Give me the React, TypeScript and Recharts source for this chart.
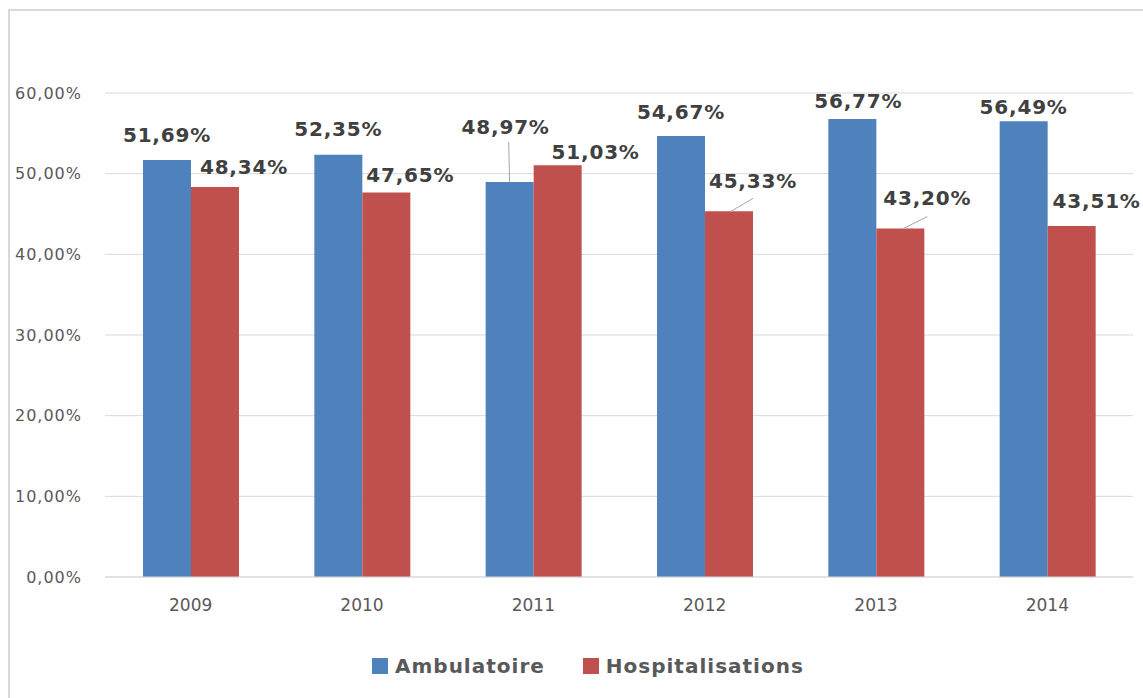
import { BarChart, Bar, XAxis, YAxis, CartesianGrid, LabelList } from "recharts";

const years = ["2009", "2010", "2011", "2012", "2013", "2014"];
const ambulatoire = [51.69, 52.35, 48.97, 54.67, 56.77, 56.49];
const hospitalisations = [48.34, 47.65, 51.03, 45.33, 43.2, 43.51];
const yTicks = [0, 10, 20, 30, 40, 50, 60];
const seriesNames = ["Ambulatoire", "Hospitalisations"];
const seriesColors = ["#4F81BD", "#C0504D"];

// label nudges (dx, dy from bar top centre), like the hand-moved Excel labels
const ambuLabelPos = [[0, -25], [0, -26], [-4, -55], [0, -24], [6, -18], [0, -14]];
const hospLabelPos = [[29, -20], [24, -18], [38, -13], [24, -30], [27, -31], [25, -25]];
// leader lines [x1, y1, x2, y2] relative to bar top centre
const ambuLeaders = [null, null, [0, 0, -1, -40], null, null, null];
const hospLeaders = [null, null, null, [2, 0, 24, -13], [3, 0, 27, -12], null];

const data = years.map((year, i) => ({
  year,
  ambulatoire: ambulatoire[i],
  hospitalisations: hospitalisations[i],
}));

const fmt = (v: number) => v.toFixed(2).replace(".", ",") + "%";

function makeLabel(pos: number[][], leaders: (number[] | null)[]) {
  return (props: any) => {
    const { x, y, width, value, index } = props;
    const cx = Number(x) + Number(width) / 2;
    const top = Number(y);
    const [dx, dy] = pos[index];
    const ld = leaders[index];
    return (
      <g>
        {ld && (
          <line x1={cx + ld[0]} y1={top + ld[1]} x2={cx + ld[2]} y2={top + ld[3]} stroke="#a6a6a6" strokeWidth={1} />
        )}
        <text
          x={cx + dx}
          y={top + dy}
          textAnchor="middle"
          dominantBaseline="central"
          fontFamily="DejaVu Sans"
          fontWeight="bold"
          fontSize={20}
          letterSpacing={0.8}
          fill="#404040"
        >
          {fmt(Number(value))}
        </text>
      </g>
    );
  };
}

export default function App() {
  return (
    <div style={{ position: "absolute", left: 0, top: 0, width: 1143, height: 698, background: "#fff", fontFamily: "DejaVu Sans" }}>
      <div style={{ position: "absolute", left: 8, top: 9, right: 0, bottom: 0, borderLeft: "2px solid #d9d9d9", borderTop: "2px solid #d9d9d9" }} />
      <div style={{ position: "absolute", left: 0, top: 0 }}>
        <BarChart width={1143} height={698} data={data} margin={{ top: 93, right: 10, left: 0, bottom: 81 }} barSize={48} barGap={0}>
          <CartesianGrid vertical={false} stroke="#d9d9d9" />
          <XAxis
            dataKey="year"
            height={40}
            axisLine={{ stroke: "#d9d9d9" }}
            tickLine={false}
            tickSize={0}
            tickMargin={22}
            tick={{ fill: "#595959", fontSize: 17, fontFamily: "DejaVu Sans" }}
          />
          <YAxis
            width={105}
            domain={[0, 60]}
            ticks={yTicks}
            axisLine={false}
            tickLine={false}
            tickSize={0}
            tickMargin={23}
            tickFormatter={fmt}
            tick={{ fill: "#595959", fontSize: 16, fontFamily: "DejaVu Sans", letterSpacing: 1 }}
          />
          <Bar dataKey="ambulatoire" fill={seriesColors[0]} isAnimationActive={false}>
            <LabelList dataKey="ambulatoire" content={makeLabel(ambuLabelPos, ambuLeaders)} />
          </Bar>
          <Bar dataKey="hospitalisations" fill={seriesColors[1]} isAnimationActive={false}>
            <LabelList dataKey="hospitalisations" content={makeLabel(hospLabelPos, hospLeaders)} />
          </Bar>
        </BarChart>
      </div>
      <div style={{ position: "absolute", left: 372, top: 652, display: "flex", alignItems: "center", height: 28 }}>
        {seriesNames.map((name, i) => (
          <div key={name} style={{ display: "flex", alignItems: "center", marginRight: 38 }}>
            <span style={{ width: 16, height: 16, background: seriesColors[i], display: "inline-block", marginRight: 7 }} />
            <span style={{ fontWeight: "bold", fontSize: 20, letterSpacing: 1, color: "#595959" }}>{name}</span>
          </div>
        ))}
      </div>
    </div>
  );
}
